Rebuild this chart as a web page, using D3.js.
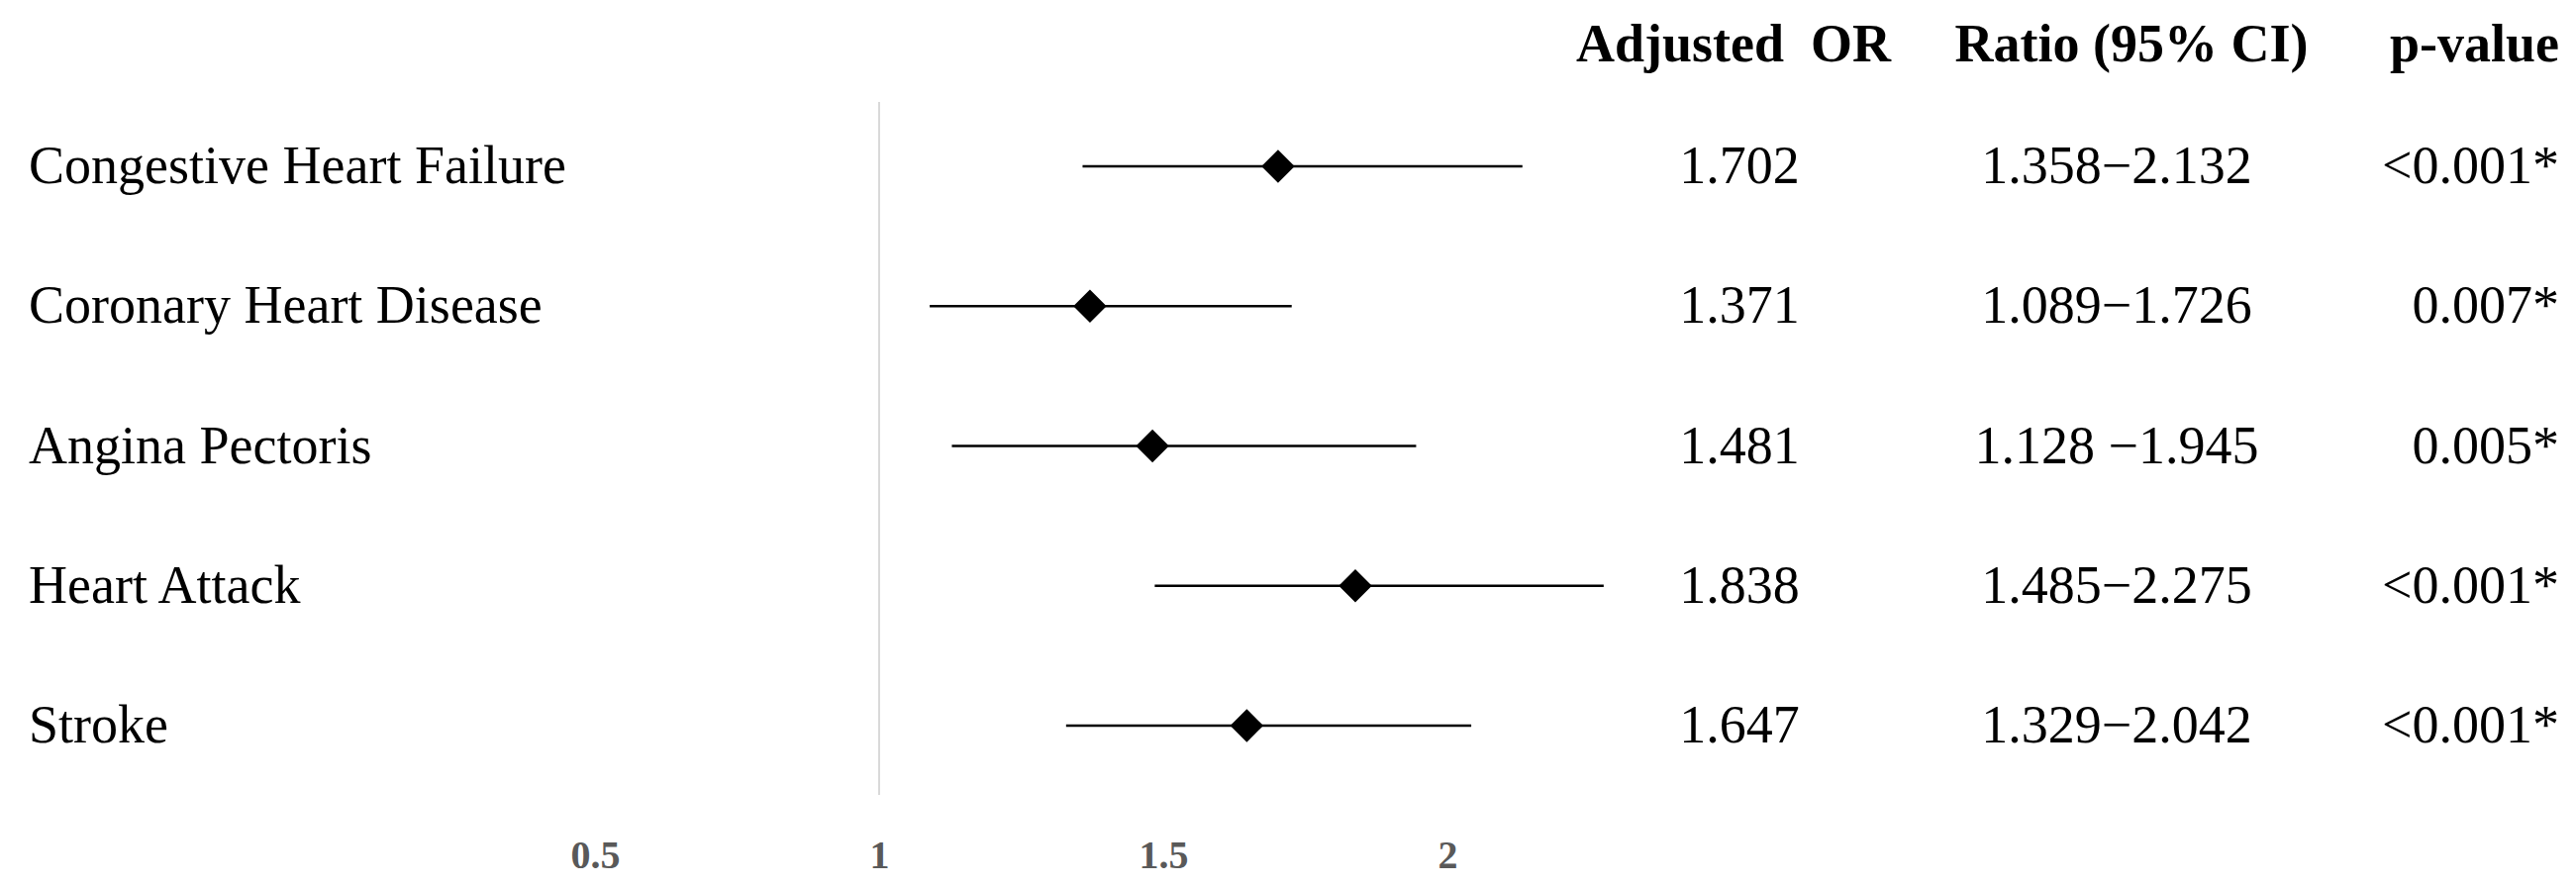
<!DOCTYPE html>
<html>
<head>
<meta charset="utf-8">
<script src="https://cdn.jsdelivr.net/npm/d3@7"></script>
<style>
  html, body { margin: 0; padding: 0; background: #fff; }
  svg { display: block; }
  text { font-family: "Liberation Serif", "Times New Roman", serif; }
</style>
</head>
<body>
<svg id="chart" width="2602" height="895"></svg>
<script>
// ---- data ----
const categories = ["Congestive Heart Failure", "Coronary Heart Disease", "Angina Pectoris", "Heart Attack", "Stroke"];
const orValues = [1.702, 1.371, 1.481, 1.838, 1.647];
const ciLow = [1.358, 1.089, 1.128, 1.485, 1.329];
const ciHigh = [2.132, 1.726, 1.945, 2.275, 2.042];
const orLabels = ["1.702", "1.371", "1.481", "1.838", "1.647"];
const ciLabels = ["1.358\u22122.132", "1.089\u22121.726", "1.128 \u22121.945", "1.485\u22122.275", "1.329\u22122.042"];
const pLabels = ["<0.001*", "0.007*", "0.005*", "<0.001*", "<0.001*"];
const tickValues = [0.5, 1, 1.5, 2];
const tickLabels = ["0.5", "1", "1.5", "2"];
const headers = ["Adjusted  OR", "Ratio (95% CI)", "p-value"];
const refValue = 1;

// ---- layout ----
const svg = d3.select("#chart");
const x = d3.scaleLinear().domain([0.5, 2]).range([601, 1462]);
const y = d3.scalePoint().domain(categories).range([168, 733]);
const rows = categories.map((c, i) => ({
  cat: c, or: orValues[i], lo: ciLow[i], hi: ciHigh[i],
  orL: orLabels[i], ciL: ciLabels[i], pL: pLabels[i]
}));

// reference line at OR = 1
svg.append("line")
  .attr("x1", x(refValue)).attr("x2", x(refValue))
  .attr("y1", 103).attr("y2", 803)
  .attr("stroke", "#d9d9d9").attr("stroke-width", 2);

// x axis tick labels
const axis = d3.axisBottom(x).tickValues(tickValues)
  .tickFormat((d, i) => tickLabels[i]).tickSize(0).tickPadding(0);
const gAxis = svg.append("g").attr("transform", "translate(0,848)").call(axis);
gAxis.select(".domain").remove();
gAxis.selectAll("text")
  .attr("dy", null).attr("y", 29)
  .attr("font-family", "Liberation Serif, Times New Roman, serif")
  .attr("font-size", 40).attr("font-weight", "bold")
  .attr("fill", "#595959");

// CI lines
svg.append("g").selectAll("line").data(rows).join("line")
  .attr("x1", d => x(d.lo)).attr("x2", d => x(d.hi))
  .attr("y1", d => y(d.cat)).attr("y2", d => y(d.cat))
  .attr("stroke", "#000").attr("stroke-width", 2.7);

// diamonds
const sym = d3.symbol().type(d3.symbolSquare).size(560);
svg.append("g").selectAll("path").data(rows).join("path")
  .attr("d", sym)
  .attr("transform", d => `translate(${x(d.or)},${y(d.cat)}) rotate(45)`)
  .attr("fill", "#000");

// category labels
svg.append("g").selectAll("text").data(rows).join("text")
  .attr("x", 29).attr("y", d => y(d.cat) + 17)
  .attr("font-size", 54).attr("fill", "#000")
  .text(d => d.cat);

// headers
const headerPos = [
  { x: 1751, anchor: "middle" },
  { x: 2153, anchor: "middle" },
  { x: 2585, anchor: "end" }
];
svg.append("g").selectAll("text").data(headers).join("text")
  .attr("x", (d, i) => headerPos[i].x).attr("y", 62)
  .attr("text-anchor", (d, i) => headerPos[i].anchor)
  .attr("font-size", 54).attr("font-weight", "bold")
  .style("white-space", "pre")
  .attr("fill", "#000")
  .text(d => d);

// table columns
svg.append("g").selectAll("text").data(rows).join("text")
  .attr("x", 1757).attr("y", d => y(d.cat) + 17)
  .attr("text-anchor", "middle").attr("font-size", 54).attr("fill", "#000")
  .text(d => d.orL);
svg.append("g").selectAll("text").data(rows).join("text")
  .attr("x", 2138).attr("y", d => y(d.cat) + 17)
  .attr("text-anchor", "middle").attr("font-size", 54).attr("fill", "#000")
  .style("white-space", "pre")
  .text(d => d.ciL);
svg.append("g").selectAll("text").data(rows).join("text")
  .attr("x", 2585).attr("y", d => y(d.cat) + 17)
  .attr("text-anchor", "end").attr("font-size", 54).attr("fill", "#000")
  .text(d => d.pL);
</script>
</body>
</html>
